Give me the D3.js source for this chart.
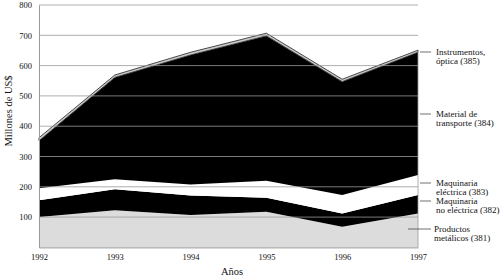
<!DOCTYPE html>
<html><head><meta charset="utf-8">
<script src="https://cdn.jsdelivr.net/npm/d3@7"></script>
<style>body{margin:0;background:#fff}svg{display:block}text{font-family:"Liberation Serif","Times New Roman",serif;fill:#111}</style>
</head><body><svg id="c" width="500" height="279"></svg>
<script>
const years = [1992, 1993, 1994, 1995, 1996, 1997];
const s381 = [100, 123, 107, 118, 68, 112];
const s382 = [56, 69, 64, 46, 44, 61];
const s383 = [39, 33, 37, 56, 61, 66];
const s384 = [157, 336, 427, 478, 374, 405];
const s385 = [10, 8, 9, 9, 8, 7];
const yTicks = [100, 200, 300, 400, 500, 600, 700, 800];
const seriesKeys = ["381", "382", "383", "384", "385"];
const labels = [
  ["Productos", "metálicos (381)"],
  ["Maquinaria", "no eléctrica (382)"],
  ["Maquinaria", "eléctrica (383)"],
  ["Material de", "transporte (384)"],
  ["Instrumentos,", "óptica (385)"]
];
const fills = ["#dcdcdc", "#000", "#fff", "#000", "#c8c8c8"];

const rows = years.map((y, i) => ({year: y, "381": s381[i], "382": s382[i], "383": s383[i], "384": s384[i], "385": s385[i]}));
const stack = d3.stack().keys(seriesKeys)(rows);

const svg = d3.select("#c");
const x = d3.scaleLinear().domain([1992, 1997]).range([39, 418]);
const y = d3.scaleLinear().domain([0, 800]).range([247.4, 5]);

const area = d3.area().x(d => x(d.data.year)).y0(d => y(d[0])).y1(d => y(d[1]));
svg.append("g").selectAll("path").data(stack).join("path")
  .attr("d", area)
  .attr("fill", (d, i) => fills[i])
  .attr("stroke", (d, i) => i === 4 ? "#222" : "none")
  .attr("stroke-width", 0.8);

// grid lines over the areas
svg.append("g").selectAll("line").data(yTicks).join("line")
  .attr("x1", x(1992)).attr("x2", x(1997))
  .attr("y1", d => y(d)).attr("y2", d => y(d))
  .attr("stroke", "#999").attr("stroke-width", 0.8);

// axes
const yAxis = d3.axisLeft(y).tickValues(yTicks).tickSize(0).tickPadding(7);
const gy = svg.append("g").attr("transform", `translate(${x(1992)},0)`).call(yAxis);
gy.select(".domain").attr("stroke", "#999");
gy.selectAll("text").style("font-size", "8.5px").attr("fill", "#111");

const xAxis = d3.axisBottom(x).tickValues(years).tickFormat(d3.format("d")).tickSize(0).tickPadding(7);
const gx = svg.append("g").attr("transform", `translate(0,${y(0)})`).call(xAxis);
gx.select(".domain").attr("stroke", "#999");
gx.selectAll("text").style("font-size", "8.5px").attr("fill", "#111");

// right border line
svg.append("line").attr("x1", x(1997)).attr("x2", x(1997)).attr("y1", y(0)).attr("y2", y(s381[5]+s382[5]+s383[5]+s384[5]+s385[5]))
  .attr("stroke", "#999").attr("stroke-width", 0.8);

svg.append("text").attr("x", 232).attr("y", 275).attr("text-anchor", "middle")
  .style("font-size", "10.5px").text("Años");
svg.append("text").attr("transform", "translate(12,111) rotate(-90)").attr("text-anchor", "middle")
  .style("font-size", "10.5px").text("Millones de US$");

// legend
const legY = [229, 201, 183, 114, 52];
const legX0 = [408, 420, 420, 420, 420];
const lg = svg.append("g");
labels.forEach((lab, i) => {
  lg.append("line").attr("x1", legX0[i]).attr("x2", 431).attr("y1", legY[i]).attr("y2", legY[i])
    .attr("stroke", "#333").attr("stroke-width", 0.7);
  const t = lg.append("text").attr("x", i === 0 ? 434 : 436).attr("y", legY[i] + 3).style("font-size", "9px");
  t.append("tspan").attr("x", i === 0 ? 434 : 436).text(lab[0]);
  t.append("tspan").attr("x", i === 0 ? 434 : 436).attr("dy", 9).text(lab[1]);
});
</script></body></html>
